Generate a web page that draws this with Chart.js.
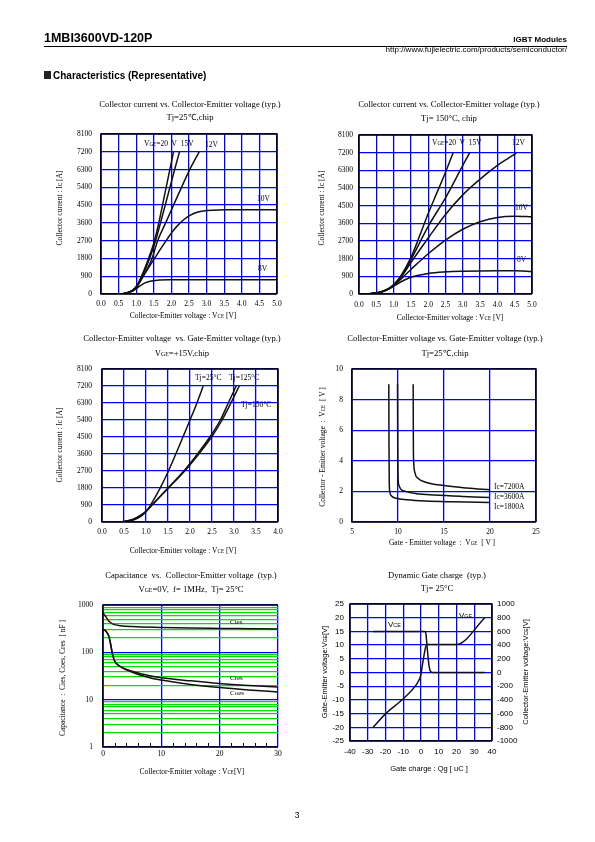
<!DOCTYPE html>
<html>
<head>
<meta charset="utf-8">
<script src="https://cdn.jsdelivr.net/npm/chart.js@4.4.0/dist/chart.umd.min.js"></script>
<style>
html, body { margin: 0; padding: 0; background: #fff; }
body { width: 595px; height: 842px; position: relative; overflow: hidden; font-family: "Liberation Serif", serif; color: #000; }
.t { position: absolute; white-space: nowrap; line-height: 1; will-change: transform; }
.v { position: absolute; white-space: nowrap; text-align: center; width: 220px; height: 10px; line-height: 10px; transform: rotate(-90deg); }
.sans { font-family: "Liberation Sans", Arial, sans-serif; }
.s { font-size: 68%; }
canvas { position: absolute; }
</style>
</head>
<body>
<script>
// ---- data ----
// Ic vs Vce, Tj=25C  [Vce, Ic]
const t25_vge20 = [[0,0],[0.5,5],[0.7,40],[0.9,200],[1.0,380],[1.15,900],[1.35,1800],[1.52,2700],[1.66,3750],[1.8,4950],[1.95,6250],[2.06,7200]];
const t25_vge15 = [[0,0],[0.5,5],[0.7,40],[0.9,190],[1.0,360],[1.17,900],[1.38,1800],[1.55,2700],[1.75,4000],[1.95,5350],[2.1,6350],[2.23,7200]];
const t25_vge12 = [[0,0],[0.5,5],[0.7,40],[0.9,180],[1.0,340],[1.2,900],[1.45,1800],[1.61,2700],[1.85,3650],[2.06,4500],[2.3,5450],[2.52,6300],[2.79,7200]];
const t25_vge10 = [[0,0],[0.5,5],[0.7,35],[0.9,170],[1.0,320],[1.2,900],[1.52,1800],[1.85,2700],[2.05,3200],[2.25,3600],[2.5,3950],[2.75,4150],[3.0,4230],[3.5,4260],[4.0,4270],[5.0,4270]];
const t25_vge8  = [[0,0],[0.5,5],[0.7,30],[0.9,150],[1.0,270],[1.1,400],[1.25,560],[1.4,650],[1.6,700],[2.0,720],[3.0,725],[5.0,725]];

// Ic vs Vce, Tj=150C
const t150_vge20 = [[0,0],[0.3,15],[0.5,50],[0.7,150],[0.9,330],[1.0,480],[1.2,900],[1.5,1850],[1.75,2950],[2.0,4100],[2.25,5150],[2.5,6200],[2.72,7200]];
const t150_vge15 = [[0,0],[0.3,15],[0.5,50],[0.7,145],[0.9,320],[1.0,460],[1.2,860],[1.5,1750],[2.0,3450],[2.5,4900],[3.0,6550],[3.2,7200]];
const t150_vge12 = [[0,0],[0.3,15],[0.5,50],[0.7,140],[0.9,310],[1.0,440],[1.2,820],[1.5,1600],[2.0,2850],[2.5,4050],[3.0,5050],[3.5,5850],[4.0,6550],[4.3,6900],[4.55,7180]];
const t150_vge10 = [[0,0],[0.3,15],[0.5,50],[0.7,135],[0.9,300],[1.0,420],[1.5,1250],[2.0,2050],[2.5,2750],[3.0,3300],[3.5,3680],[4.0,3900],[4.5,3960],[5.0,3930]];
const t150_vge8  = [[0,0],[0.3,15],[0.5,50],[0.7,130],[0.9,290],[1.0,400],[1.25,650],[1.5,850],[2.0,1050],[2.5,1130],[3.0,1160],[4.0,1180],[4.5,1180],[5.0,1150]];

// Ic vs Vce at Vge=+15V
const vge15_tj25  = [[0.35,0],[0.5,15],[0.7,90],[0.9,330],[1.0,540],[1.1,880],[1.3,1700],[1.5,2650],[1.75,4000],[2.0,5400],[2.15,6250],[2.3,7200]];
const vge15_tj125 = [[0.35,0],[0.5,25],[0.7,130],[0.9,380],[1.0,560],[1.2,1050],[1.5,1800],[1.86,2700],[2.17,3600],[2.45,4500],[2.69,5400],[2.87,6300],[3.05,7200]];
const vge15_tj150 = [[0.35,0],[0.5,30],[0.7,140],[0.9,390],[1.0,570],[1.2,1060],[1.5,1780],[1.88,2700],[2.2,3600],[2.49,4500],[2.73,5400],[2.93,6300],[3.12,7200]];

// Vce vs Vge, Tj=25C  [Vge, Vce]
const ic1800 = [[9.0,9],[9.02,5],[9.05,2.6],[9.1,2.0],[9.3,1.7],[9.8,1.55],[11,1.45],[13,1.37],[16,1.32],[20,1.28]];
const ic3600 = [[9.95,9],[9.97,5],[10.0,3],[10.1,2.4],[10.3,2.15],[10.8,2.0],[12,1.85],[14,1.76],[17,1.67],[20,1.6]];
const ic7200 = [[11.65,9],[11.67,5],[11.7,4],[11.85,3.2],[12.2,2.85],[13,2.6],[15,2.38],[17.5,2.22],[20,2.1]];

// Capacitance vs Vce  [Vce, nF]
const cies = [[0,680],[0.5,560],[1,460],[1.5,410],[2,385],[3,365],[5,350],[10,335],[15,325],[20,320],[25,316],[30,312]];
const cres = [[0,300],[0.5,280],[1,220],[1.3,150],[1.6,95],[2,65],[3,50],[5,40],[8,32],[10,29],[15,25],[20,22],[25,20],[30,18.5]];
const coes = [[0,300],[0.5,280],[1,220],[1.3,150],[1.6,95],[2,65],[3,50],[5,38],[8,29],[10,26],[15,21],[20,18],[25,16],[30,14.5]];
const capTicks = [1,2,3,4,5,6,7,8,9,10,20,30,40,50,60,70,80,90,100,200,300,400,500,600,700,800,900,1000];

// Dynamic gate charge  [Qg, V]
const gateVge = [[-27,-20],[-20,-15.1],[-10,-9.6],[-3,-4.8],[-1.5,-3.2],[-0.5,-1.8],[0,-0.5],[0.5,1.5],[1.5,5.5],[2.5,9],[3.2,10.2],[5,10.2],[10,10.2],[20,10.2],[36,20]];
const gateVce = [[-27,600],[2.3,600],[2.8,560],[3.3,420],[4,220],[4.7,70],[5.5,10],[6.5,0],[36,0]];

// ---- helpers ----
const SERIF = '"Liberation Serif", serif';
const SANS = '"Liberation Sans", Arial, sans-serif';
const BLUE = '#0000ff';
const GREEN = '#00dd00';
const TITLE = 8.6;

function txt(x, y, html, anchor, cls, size) {
  const d = document.createElement('div');
  d.className = 't ' + (cls || '');
  d.innerHTML = html;
  d.style.left = x + 'px';
  d.style.top = y + 'px';
  d.style.fontSize = (size || 8) + 'px';
  const tx = anchor === 'c' ? '-50%' : anchor === 'r' ? '-100%' : '0';
  d.style.transform = `translate(${tx},-50%)`;
  document.body.appendChild(d);
  return d;
}
// rotated axis title centred on (x, y)
function vtxt(x, y, html, cls, size) {
  const d = document.createElement('div');
  d.className = 'v ' + (cls || '');
  d.innerHTML = html;
  d.style.left = (x - 110) + 'px';
  d.style.top = (y - 5) + 'px';
  d.style.fontSize = size + 'px';
  document.body.appendChild(d);
  return d;
}

// canvas around a plot rect [l,t,r,b] with margins [ml,mt,mr,mb]
function place(plot, m) {
  const c = document.createElement('canvas');
  c.width = plot[2] - plot[0] + m[0] + m[2];
  c.height = plot[3] - plot[1] + m[1] + m[3];
  c.style.left = (plot[0] - m[0]) + 'px';
  c.style.top = (plot[1] - m[1]) + 'px';
  document.body.appendChild(c);
  return c;
}

const framePlugin = {
  id: 'frame',
  afterDatasetsDraw(chart, args, opts) {
    const { ctx, chartArea: a } = chart;
    ctx.save();
    ctx.strokeStyle = '#000';
    ctx.lineWidth = 1.5;
    ctx.beginPath();
    ctx.moveTo(a.right, a.bottom); ctx.lineTo(a.left, a.bottom); ctx.lineTo(a.left, a.top); ctx.lineTo(a.right, a.top);
    if (opts.right !== false) ctx.lineTo(a.right, a.bottom);
    ctx.stroke();
    ctx.restore();
  }
};

// short inward tick marks on the x axis between the labelled ticks
const minorTicks = {
  id: 'minorTicks',
  afterDraw(chart, args, o) {
    if (!o.step) return;
    const sx = chart.scales.x, a = chart.chartArea, ctx = chart.ctx;
    ctx.save();
    ctx.strokeStyle = '#000';
    ctx.lineWidth = 1;
    for (let v = sx.min + o.step; v < sx.max; v += o.step) {
      if (Math.abs(v % o.major) < 1e-9) continue;
      const px = Math.round(sx.getPixelForValue(v)) + 0.5;
      ctx.beginPath(); ctx.moveTo(px, a.bottom); ctx.lineTo(px, a.bottom - o.len); ctx.stroke();
    }
    ctx.restore();
  }
};

function line(a, extra) {
  return Object.assign({
    data: a.map(([x, y]) => ({ x, y })),
    borderColor: '#111', borderWidth: 1.5, pointRadius: 0,
    cubicInterpolationMode: 'monotone', fill: false
  }, extra || {});
}

const plain = v => String(v);
function axis(min, max, step, o) {
  return {
    type: 'linear', min, max, position: o.pos,
    ticks: { stepSize: step, color: '#000', font: { family: o.fam || SERIF, size: o.size || 7.5 }, padding: o.pad, autoSkip: false, maxRotation: 0, callback: o.fmt || plain },
    grid: { color: o.grid || BLUE, lineWidth: 1.3, drawTicks: false, display: o.noGrid ? false : true },
    border: { display: false },
    afterFit: o.fit
  };
}

function makeChart(plot, m, datasets, scales, extraPlugins, padRight) {
  const c = place(plot, m);
  return new Chart(c, {
    type: 'line',
    data: { datasets },
    options: {
      responsive: false, animation: false, events: [],
      layout: { padding: { left: 2, top: m[1], right: padRight != null ? padRight : m[2], bottom: 2 } },
      plugins: Object.assign({ legend: { display: false }, tooltip: { enabled: false }, frame: {}, minorTicks: {} }, extraPlugins || {}),
      scales
    },
    plugins: [framePlugin, minorTicks]
  });
}

const fix1 = v => v.toFixed(1);
// top margin must exceed half a label + tick padding, or Chart.js pushes the plot down
const M = [44, 18, 16, 24];
const fitY = s => { s.width = M[0] - 2; };
const fitX = s => { s.height = M[3] - 2; };

// ---- page header ----
txt(44, 38, '1MBI3600VD-120P', 'l', 'sans', 12.5).style.fontWeight = 'bold';
const rule = document.createElement('div');
rule.style.cssText = 'position:absolute;left:44px;top:46px;width:523px;height:1px;background:#000;';
document.body.appendChild(rule);
txt(567, 39.5, 'IGBT Modules', 'r', 'sans', 8).style.fontWeight = 'bold';
txt(567, 50, 'http://www.fujielectric.com/products/semiconductor/', 'r', 'sans', 8);
const sq = document.createElement('div');
sq.style.cssText = 'position:absolute;left:44px;top:71px;width:7px;height:8px;background:#222;';
document.body.appendChild(sq);
txt(53, 75.5, 'Characteristics (Representative)', 'l', 'sans', 10).style.fontWeight = 'bold';
txt(297, 815, '3', 'c', 'sans', 8.5);

// ---- chart 1: Tj=25C ----
makeChart([101, 134, 277, 294], M,
  [line(t25_vge20), line(t25_vge15), line(t25_vge12), line(t25_vge10), line(t25_vge8)],
  { x: axis(0, 5, 0.5, { fmt: fix1, pad: 6, fit: fitX }), y: axis(0, 8100, 900, { pad: 9, fit: fitY }) });
txt(190, 104, 'Collector current vs. Collector-Emitter voltage (typ.)', 'c', '', TITLE);
txt(190, 117, 'Tj=25℃,chip', 'c', '', TITLE);
txt(183, 316, 'Collector-Emitter voltage : V<span class="s">CE</span> [V]', 'c', '', 7.5);
vtxt(60, 208, 'Collector current : Ic [A]', '', 7.5);
txt(144, 144, 'V<span class="s">GE</span>=20&nbsp; V&nbsp; 15V', 'l', '', 7.5);
txt(205, 145, '12V', 'l', '', 7.5);
txt(257, 199, '10V', 'l', '', 7.5);
txt(258, 269, '8V', 'l', '', 7.5);

// ---- chart 2: Tj=150C ----
makeChart([359, 135, 532, 294], M,
  [line(t150_vge20), line(t150_vge15), line(t150_vge12), line(t150_vge10), line(t150_vge8)],
  { x: axis(0, 5, 0.5, { fmt: fix1, pad: 7, fit: fitX }), y: axis(0, 8100, 900, { pad: 6, fit: fitY }) });
txt(449, 104, 'Collector current vs. Collector-Emitter voltage (typ.)', 'c', '', TITLE);
txt(449, 118, 'Tj= 150°C, chip', 'c', '', TITLE);
txt(450, 318, 'Collector-Emitter voltage : V<span class="s">CE</span> [V]', 'c', '', 7.5);
vtxt(322, 208, 'Collector current : Ic [A]', '', 7.5);
txt(432, 143, 'V<span class="s">GE</span>=20&nbsp; V&nbsp; 15V', 'l', '', 7.5);
txt(512, 143, '12V', 'l', '', 7.5);
txt(515, 208, '10V', 'l', '', 7.5);
txt(517, 260, '8V', 'l', '', 7.5);

// ---- chart 3: Vge=+15V ----
makeChart([102, 369, 278, 522], M,
  [line(vge15_tj25), line(vge15_tj125), line(vge15_tj150)],
  { x: axis(0, 4, 0.5, { fmt: fix1, pad: 6, fit: fitX }), y: axis(0, 8100, 900, { pad: 10, fit: fitY }) });
txt(182, 338, 'Collector-Emitter voltage&nbsp; vs. Gate-Emitter voltage (typ.)', 'c', '', TITLE);
txt(182, 353, 'V<span class="s">GE</span>=+15V,chip', 'c', '', TITLE);
txt(183, 551, 'Collector-Emitter voltage : V<span class="s">CE</span> [V]', 'c', '', 7.5);
vtxt(60, 445, 'Collector current : Ic [A]', '', 7.5);
txt(195, 378, 'Tj=25°C', 'l', '', 7.5);
txt(229, 378, 'Tj=125°C', 'l', '', 7.5);
txt(241, 405, 'Tj=150°C', 'l', '', 7.5);

// ---- chart 4: Vce vs Vge ----
makeChart([352, 369, 536, 522], M,
  [line(ic1800), line(ic3600), line(ic7200)],
  { x: axis(5, 25, 5, { pad: 6, fit: fitX }), y: axis(0, 10, 2, { pad: 9, fit: fitY }) });
txt(445, 338, 'Collector-Emitter voltage vs. Gate-Emitter voltage (typ.)', 'c', '', TITLE);
txt(445, 353, 'Tj=25℃,chip', 'c', '', TITLE);
txt(442, 543, 'Gate - Emitter voltage&nbsp; :&nbsp; V<span class="s">GE</span>&nbsp; [ V ]', 'c', '', 7.5);
vtxt(323, 447, 'Collector - Emitter voltage&nbsp; :&nbsp; V<span class="s">CE</span>&nbsp; [ V ]', '', 7.5);
txt(494, 487, 'Ic=7200A', 'l', '', 7.5);
txt(494, 497, 'Ic=3600A', 'l', '', 7.5);
txt(494, 507, 'Ic=1800A', 'l', '', 7.5);

// ---- chart 5: capacitance (log) ----
const isDecade = v => Math.abs(Math.log10(v) - Math.round(Math.log10(v))) < 1e-9;
const capY = {
  type: 'logarithmic', min: 1, max: 1000,
  afterBuildTicks: s => { s.ticks = capTicks.map(v => ({ value: v })); },
  ticks: { color: '#000', font: { family: SERIF, size: 7.5 }, padding: 10, autoSkip: false,
    callback: v => isDecade(v) ? String(v) : '' },
  grid: { color: c => isDecade(c.tick.value) ? BLUE : GREEN, lineWidth: 1.3, drawTicks: false },
  border: { display: false },
  afterFit: fitY
};
makeChart([103, 605, 278, 747], M,
  [line(cies), line(cres), line(coes)],
  { x: axis(0, 30, 10, { pad: 3, fit: fitX }), y: capY },
  { frame: { right: false }, minorTicks: { step: 2, major: 10, len: 4 } });
txt(191, 575, 'Capacitance&nbsp; vs.&nbsp; Collector-Emitter voltage&nbsp; (typ.)', 'c', '', TITLE);
txt(191, 589, 'V<span class="s">GE</span>=0V,&nbsp; f= 1MHz,&nbsp; Tj= 25°C', 'c', '', TITLE);
txt(192, 772, 'Collector-Emitter voltage : V<span class="s">CE</span>[V]', 'c', '', 7.5);
vtxt(63, 678, 'Capacitance&nbsp; :&nbsp; Cies, Coes, Cres&nbsp; [ nF ]', '', 7.5);
txt(230, 622, 'Cies', 'l', '', 7);
txt(230, 678, 'Cres', 'l', '', 7);
txt(230, 693, 'Coes', 'l', '', 7);

// ---- chart 6: dynamic gate charge ----
const M6 = [44, 18, 44, 24];
makeChart([350, 604, 492, 741], M6,
  [line(gateVge, { yAxisID: 'y' }), line(gateVce, { yAxisID: 'y2' })],
  {
    x: axis(-40, 40, 10, { fam: SANS, size: 8, pad: 6, fit: s => { s.height = M6[3] - 2; } }),
    y: axis(-25, 25, 5, { fam: SANS, size: 8, pad: 6, fit: s => { s.width = M6[0] - 2; } }),
    y2: axis(-1000, 1000, 200, { fam: SANS, size: 8, pad: 5, pos: 'right', noGrid: true, fit: s => { s.width = M6[2] - 2; } })
  }, null, 2);
txt(437, 575, 'Dynamic Gate charge&nbsp; (typ.)', 'c', '', TITLE);
txt(437, 588, 'Tj= 25°C', 'c', '', TITLE);
txt(429, 769, 'Gate charge : Qg [ uC ]', 'c', 'sans', 7.5);
vtxt(325, 672, 'Gate-Emitter voltage:V<span class="s">GE</span>[V]', 'sans', 7.5);
vtxt(526, 672, 'Collector-Emitter voltage:V<span class="s">CE</span>[V]', 'sans', 7.5);
txt(388, 625, 'V<span class="s">CE</span>', 'l', 'sans', 8);
txt(459, 616, 'V<span class="s">GE</span>', 'l', 'sans', 8);
</script>
</body>
</html>
